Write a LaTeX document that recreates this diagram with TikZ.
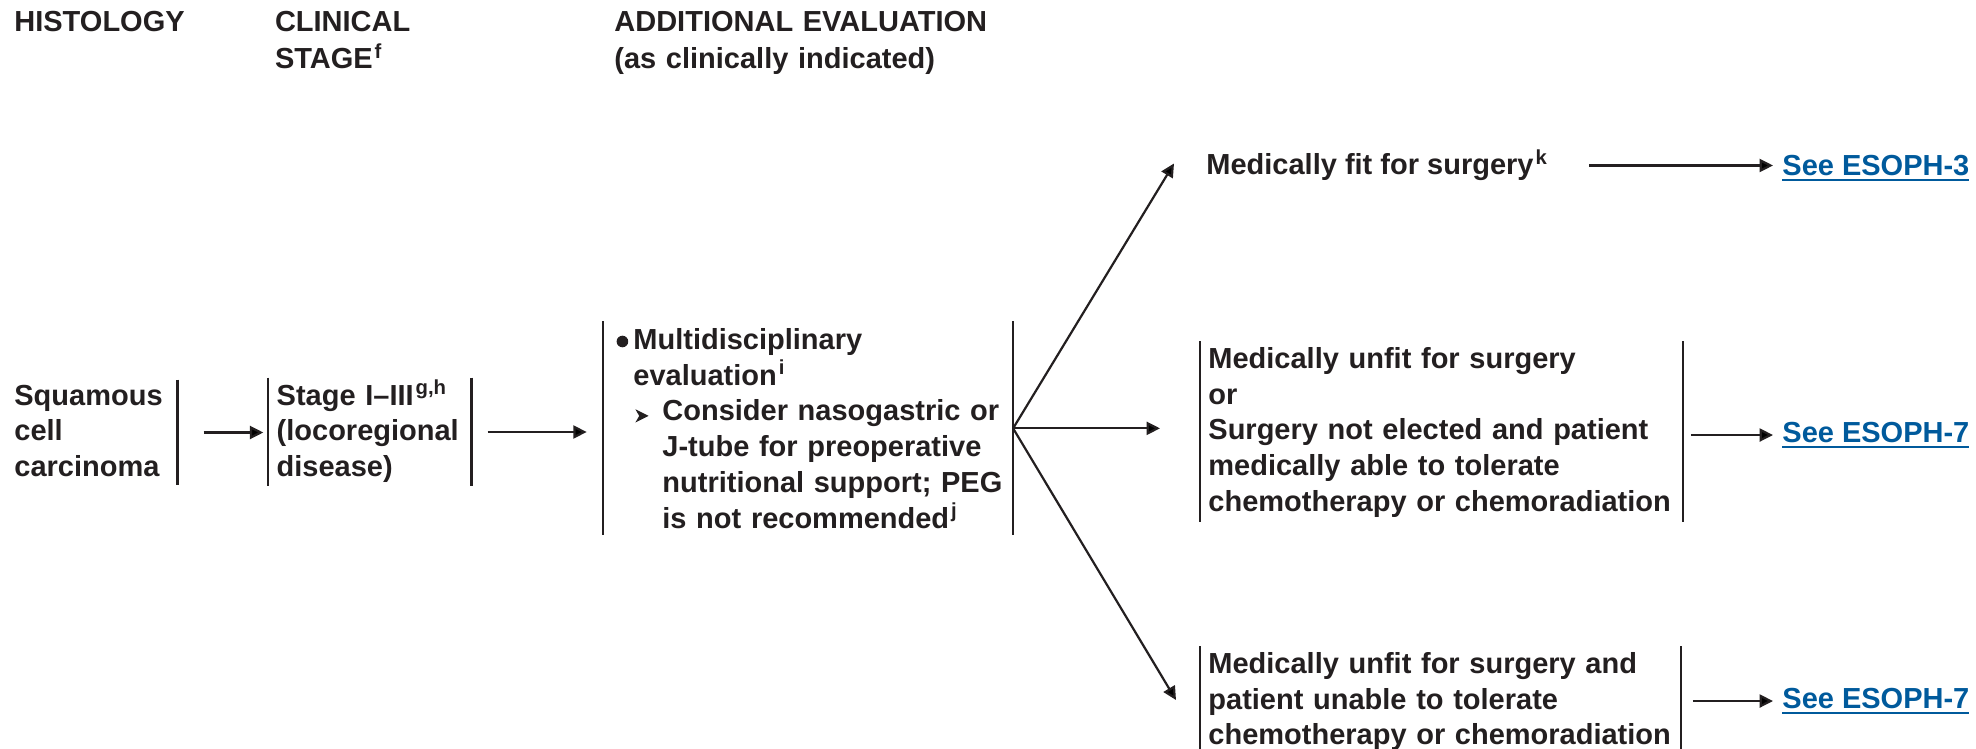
\documentclass[tikz,border=0pt]{standalone}
\usepackage{fontspec}
\setmainfont{Liberation Sans}
\usetikzlibrary{arrows.meta}

\definecolor{ink}{HTML}{231F20}
\definecolor{linkblue}{HTML}{005A9C}

\newcommand{\supnote}[1]{\kern1pt\textsuperscript{#1}}
\newcommand{\dotmark}{\makebox[9pt][l]{\hspace{0.6pt}\tikz[baseline=0pt]\fill[ink] (0pt,3.9pt) circle [radius=2.9pt];}}
\newcommand{\tri}{\makebox[14.5pt][l]{\hspace{1pt}\tikz[baseline=0pt]\fill[ink] (0pt,-0.8pt) -- (6.6pt,2.5pt) -- (0pt,5.8pt) -- (1.9pt,2.5pt) -- cycle;}}
\newsavebox{\linkbox}
\newcommand{\seelink}[1]{\sbox{\linkbox}{#1}\rlap{\rule[-2.65pt]{\wd\linkbox}{1pt}}\usebox{\linkbox}}

\tikzset{
  txt/.style={inner sep=0pt, anchor=base west, align=left, text=ink,
    font=\fontsize{14.5}{17.9}\selectfont\bfseries},
  hdr/.style={txt, text width=220pt, font=\fontsize{14.5}{18.7}\selectfont\bfseries},
  box/.style={txt, text width=#1, inner xsep=4pt,
    execute at begin node={\rightskip=-1em plus 1fil}},
  link/.style={txt, text=linkblue},
  bar/.style={draw=ink, line width=1.15pt},
  arr/.style={draw=ink, line width=1.1pt, -{Triangle[length=6.7pt,width=6.5pt]}}
}

\begin{document}
\begin{tikzpicture}[x=0.5pt, y=-0.5pt]
\useasboundingbox (0,0) rectangle (1976,749);

% column heads
\node[hdr] (histo) at (14,31.5) {HISTOLOGY};
\node[hdr] (clin) at (274.6,31.5) {CLINICAL\\STAGE\supnote{f}};
\node[hdr] (addl) at (614,31.5) {ADDITIONAL EVALUATION\\(as clinically indicated)};

% left part
\node[box=81.35pt, inner xsep=0pt, text height=12.5pt, text depth=40pt] (scc) at (14,405)
  {Squamous\\cell\\carcinoma};
\node[box=93.2pt, text height=13.5pt, text depth=40.5pt] (stage) at (268.3,405)
  {Stage I--III\supnote{g,h}\\(locoregional\\disease)};
\node[box=192.8pt, inner xsep=5.85pt, text height=13.8pt, text depth=92.85pt] (eval) at (603.3,349.3)
  {\dotmark Multidisciplinary\\
   \hspace*{9pt}evaluation\supnote{i}\\
   \hspace*{9pt}\tri Consider nasogastric or\\
   \hspace*{23.5pt}J-tube for preoperative\\
   \hspace*{23.5pt}nutritional support; PEG\\
   \hspace*{23.5pt}is not recommended\supnote{j}};

% right part
\node[txt] (fit) at (1206,175) {Medically fit for surgery\supnote{k}};
\node[box=233pt, text height=13.3pt, text depth=76.7pt] (unfit) at (1200,368.3)
  {Medically unfit for surgery\\or\\Surgery not elected and patient\\medically able to tolerate\\chemotherapy or chemoradiation};
\node[box=232pt, text height=13.3pt, text depth=40pt] (unable) at (1200,673.3)
  {Medically unfit for surgery and\\patient unable to tolerate\\chemotherapy or chemoradiation};

\node[link] (esoph3) at (1782,175.3) {\seelink{See ESOPH-3}};
\node[link] (esoph7a) at (1782,442.5) {\seelink{See ESOPH-7}};
\node[link] (esoph7b) at (1782,708.5) {\seelink{See ESOPH-7}};

% side bars
\draw[bar] (scc.north east) -- (scc.south east);
\draw[bar] (stage.north west) -- (stage.south west) (stage.north east) -- (stage.south east);
\draw[bar] (eval.north west) -- (eval.south west) (eval.north east) -- (eval.south east);
\draw[bar] (unfit.north west) -- (unfit.south west) (unfit.north east) -- (unfit.south east);
\draw[bar] (unable.north west) -- (unable.south west) (unable.north east) -- (unable.south east);

% arrows
\draw[arr, shorten <=13pt, shorten >=2.5pt] (scc.east) -- (scc.east -| stage.west);
\draw[arr, shorten <=8pt, shorten >=8.3pt] (stage.east) -- (stage.east -| eval.west);
\draw[arr] (eval.east) -- ([xshift=-16pt, yshift=1pt]fit.west);
\draw[arr, shorten >=20pt] (eval.east) -- (eval.east -| unfit.west);
\draw[arr] (eval.east) -- ([xshift=-12pt]unable.west);
\draw[arr, shorten <=20.5pt, shorten >=4.5pt] (fit.east) -- (fit.east -| esoph3.west);
\draw[arr, shorten <=4pt, shorten >=4.5pt] (unfit.east |- esoph7a.west) -- (esoph7a.west);
\draw[arr, shorten <=6pt, shorten >=4.5pt] (unable.east |- esoph7b.west) -- (esoph7b.west);
\end{tikzpicture}
\end{document}
